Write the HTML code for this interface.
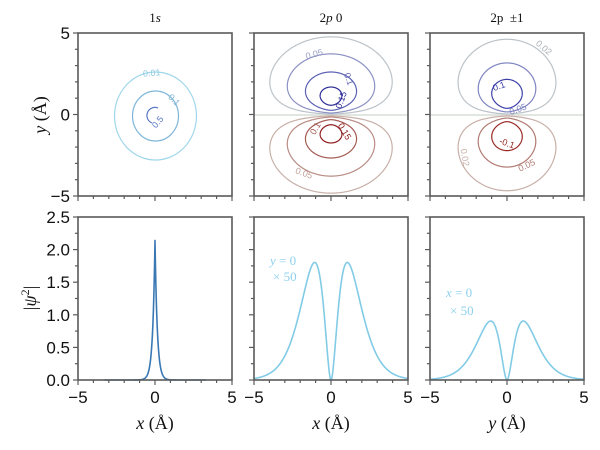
<!DOCTYPE html>
<html><head><meta charset="utf-8">
<style>
html,body{margin:0;padding:0;background:#fff;}
svg{display:block;}
.t{font-family:"Liberation Sans",sans-serif;font-size:17px;fill:#111;}
.s{font-family:"Liberation Serif",serif;fill:#111;}
.cl{font-family:"Liberation Sans",sans-serif;font-size:9px;}
</style></head>
<body>
<svg id="c" width="600" height="450" viewBox="0 0 600 450" xmlns="http://www.w3.org/2000/svg">
<rect width="600" height="450" fill="#fff"/>
<g id="g"></g>
<text class="s" x="155" y="22" font-size="13" text-anchor="middle">1<tspan font-style="italic">s</tspan></text>
<text class="s" x="331" y="22" font-size="13" text-anchor="middle">2<tspan font-style="italic">p</tspan> 0</text>
<text class="s" x="507" y="22" font-size="13" text-anchor="middle">2p &#160;±1</text>
<text class="s" x="155" y="429" font-size="18" text-anchor="middle"><tspan font-style="italic">x</tspan> (Å)</text>
<text class="s" x="331" y="429" font-size="18" text-anchor="middle"><tspan font-style="italic">x</tspan> (Å)</text>
<text class="s" x="507" y="429" font-size="18" text-anchor="middle"><tspan font-style="italic">y</tspan> (Å)</text>
<text class="s" transform="translate(46,115) rotate(-90)" font-size="18" text-anchor="middle"><tspan font-style="italic">y</tspan> (Å)</text>
<text class="s" transform="translate(36,298) rotate(-90)" font-size="18" text-anchor="middle">|<tspan font-style="italic">ψ</tspan><tspan font-size="12" dy="-7">2</tspan><tspan dy="7">|</tspan></text>
<g class="s" font-size="13">
<text x="270" y="265" fill="#8fd0ec" font-style="italic">y<tspan font-style="normal"> = 0</tspan></text>
<text x="273" y="281" fill="#8fd0ec">× 50</text>
<text x="446" y="297" fill="#8fd0ec" font-style="italic">x<tspan font-style="normal"> = 0</tspan></text>
<text x="450" y="315" fill="#8fd0ec">× 50</text>
</g>
</svg>
<script>
var g=document.getElementById('g');var NS='http://www.w3.org/2000/svg';
function el(t,a){var e=document.createElementNS(NS,t);for(var k in a)e.setAttribute(k,a[k]);g.appendChild(e);return e;}
var cols=[78,254,430],W=154;
var top1=33,bot1=196,top2=217,bot2=380;
el('ellipse',{cx:155.5,cy:116,rx:41,ry:44,fill:'none',stroke:'#9fd6ea','stroke-width':1.2});
el('ellipse',{cx:155.5,cy:116,rx:23,ry:25,fill:'none',stroke:'#7fb6d8','stroke-width':1.2});
el('path',{d:'M158,108 A8,8 0 1 0 152,123',fill:'none',stroke:'#5a78c8','stroke-width':1.2});
el('line',{x1:254,y1:115,x2:408,y2:115,stroke:'#d8ddd6','stroke-width':1.5});
el('line',{x1:430,y1:115,x2:584,y2:115,stroke:'#d8ddd6','stroke-width':1.5});
var Lc=1.06;
function gfun(r){return r*Math.exp(-r/Lc);}
function root(v,lo,hi,inc){for(var i=0;i<60;i++){var m=(lo+hi)/2;var gm=gfun(m);if((gm<v)===inc)lo=m;else hi=m;}return (lo+hi)/2;}
function lobe(cx,c,xs,col,sgn){
  var gmax=Lc/Math.E;var tmax=Math.acos(Math.min(1,c/gmax))*0.99999;
  var N=200,outer=[],inner=[];
  for(var i=0;i<=N;i++){var th=-tmax+2*tmax*i/N;var v=c/Math.cos(th);
    var ro=root(v,Lc,40,false);var ri=root(v,0,Lc,true);
    outer.push([ro*Math.sin(th),ro*Math.cos(th)]);inner.push([ri*Math.sin(th),ri*Math.cos(th)]);}
  var pts=outer.concat(inner.reverse());
  var s=pts.map(function(p){return (cx+p[0]*15.4*xs).toFixed(2)+','+(115-sgn*p[1]*16.3).toFixed(2);}).join(' ');
  el('polygon',{points:s,fill:'none',stroke:col,'stroke-width':1.2});
}
var up=['#bcc3c8','#8c91c4','#5a60b4','#2c2c98'],dn=['#c8b0a8','#b98c84','#a45a52','#8e1c1c'];
var C1=[0.052,0.109,0.219,0.34];
for(var i=0;i<4;i++){lobe(331,C1[i],1.2,up[i],1);lobe(331,C1[i],1.2,dn[i],-1);}
var C2=[0.058,0.157,0.278];
var u2=['#bcc3c8','#7f84c2','#3c40a8'],d2=['#c8b0a8','#b07a72','#9a2a26'];
for(var i=0;i<3;i++){lobe(507,C2[i],1.0,u2[i],1);lobe(507,C2[i],1.0,d2[i],-1);}
function lab(x,y,t,c,r){var e=el('text',{x:x,y:y,'class':'cl',fill:c,'text-anchor':'middle',transform:'rotate('+(r||0)+','+x+','+y+')'});e.textContent=t;}
lab(152,76,'0.01','#8fcbe0',-5);lab(172,102,'0.1','#7fb6d8',45);lab(160,124,'0.5','#5a78c8',-50);
lab(315,57,'0.05','#9a9fc8',-15);lab(346,80,'0.1','#5a60b4',70);lab(344,101,'0.15','#2c2c98',-70);
lab(318,130,'0.1','#a45a52',-60);lab(342,133,'0.15','#8e1c1c',60);lab(303,176,'0.05','#c0a098',20);
lab(542,50,'0.02','#aab0b8',40);lab(500,89,'0.1','#3c40a8',-20);lab(519,112,'0.05','#7f84c2',-20);
lab(462,158,'0.02','#c8b0a8',80);lab(506,146,'-0.1','#9a2a26',20);lab(528,168,'0.05','#b07a72',-25);
function curve(x0,f,xmin,xmax,col){var pts=[];for(var i=0;i<=600;i++){var x=xmin+(xmax-xmin)*i/600;var y=f(x);pts.push((x0+x*15.4).toFixed(2)+','+(bot2-y*65.2).toFixed(2));}
el('polyline',{points:pts.join(' '),fill:'none',stroke:col,'stroke-width':1.6,'stroke-linejoin':'round'});}
curve(155,function(x){return 2.14*Math.exp(-2*Math.abs(x)/0.3);},-3.3,3.3,'#3a78b4');
curve(331,function(x){return 11.9*x*x*Math.exp(-Math.abs(x)/0.529);},-5,5,'#82cbe6');
curve(507,function(x){return 5.97*x*x*Math.exp(-Math.abs(x)/0.529);},-5,5,'#82cbe6');
var fc='#5a5a5a';
for(var c=0;c<3;c++){var x0=cols[c];
 [[top1,bot1],[top2,bot2]].forEach(function(r,ri){
  el('rect',{x:x0,y:r[0],width:W,height:r[1]-r[0],fill:'none',stroke:fc,'stroke-width':1.6});
  for(var k=0;k<=10;k++){var xx=x0+k*W/10;var len=(k%5==0)?5:3;el('line',{x1:xx,y1:r[1],x2:xx,y2:r[1]+len,stroke:fc,'stroke-width':1.2});}
  for(var k=0;k<=10;k++){var yy=r[0]+k*(r[1]-r[0])/10;var len=(k%(ri==0?5:2)==0)?5:3;el('line',{x1:x0,y1:yy,x2:x0-len,y2:yy,stroke:fc,'stroke-width':1.2});}
 });
 ['−5','0','5'].forEach(function(t,k){var e=el('text',{x:x0+k*W/2,y:403,'class':'t','text-anchor':'middle'});e.textContent=t;});
}
['5','0','−5'].forEach(function(t,k){var e=el('text',{x:70,y:top1+k*(bot1-top1)/2+6,'class':'t','text-anchor':'end'});e.textContent=t;});
['2.5','2.0','1.5','1.0','0.5','0.0'].forEach(function(t,k){var e=el('text',{x:70,y:top2+k*(bot2-top2)/5+6,'class':'t','text-anchor':'end'});e.textContent=t;});
</script>
</body></html>
